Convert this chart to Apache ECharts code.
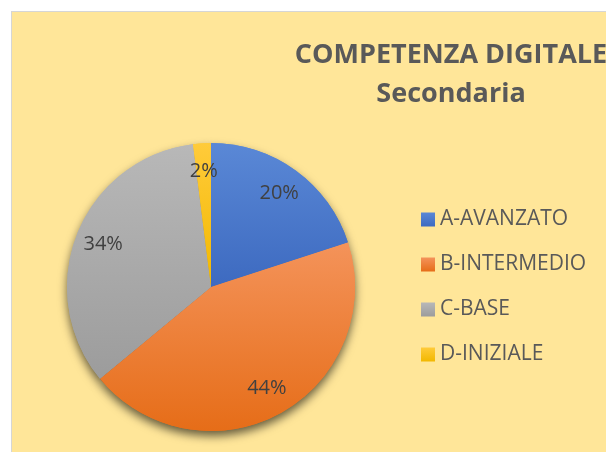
<!DOCTYPE html>
<html>
<head>
<meta charset="utf-8">
<script src="https://cdn.jsdelivr.net/npm/echarts@6/dist/echarts.min.js"></script>
<style>
  html, body { margin: 0; padding: 0; background: #ffffff; }
  #bg { position: absolute; left: 11px; top: 11px; right: 0; bottom: 0;
        background: #FFE699; border-left: 1px solid #d6d6d6; border-top: 1px solid #d6d6d6; }
  #main { position: absolute; left: 0; top: 0; width: 606px; height: 452px; }
</style>
</head>
<body>
<div id="bg"></div>
<div id="main"></div>
<script>
var categories = ['A-AVANZATO', 'B-INTERMEDIO', 'C-BASE', 'D-INIZIALE'];
var values = [20, 44, 34, 2];
var colorsTop = ['#5A88D6', '#F4935A', '#B8B8B8', '#FFCB3A'];
var colorsBottom = ['#3D6AC0', '#E66D18', '#9C9C9C', '#F2B800'];

function grad(i) {
    return new echarts.graphic.LinearGradient(0, 0, 0, 1, [
        { offset: 0, color: colorsTop[i] },
        { offset: 1, color: colorsBottom[i] }
    ]);
}

var pieData = categories.map(function (name, i) {
    return { name: name, value: values[i], itemStyle: { color: grad(i) } };
});

var myChart = echarts.init(document.getElementById('main'));

myChart.setOption({
    backgroundColor: 'transparent',
    animation: false,
    title: {
        text: 'COMPETENZA DIGITALE\nSecondaria',
        left: 451,
        top: 36,
        padding: 0,
        textAlign: 'center',
        textStyle: {
            fontFamily: 'Open Sans',
            fontWeight: 'bold',
            fontSize: 27,
            lineHeight: 39,
            color: '#595959'
        }
    },
    legend: {
        orient: 'vertical',
        left: 421,
        top: 209,
        padding: 0,
        itemWidth: 14,
        itemHeight: 14,
        itemGap: 24,
        icon: 'rect',
        data: categories,
        textStyle: {
            fontFamily: 'Open Sans',
            fontSize: 21,
            color: '#595959'
        }
    },
    series: [
        {
            // base pie carrying the drop shadow
            type: 'pie',
            silent: true,
            center: [211, 287],
            radius: [0, 144],
            startAngle: 90,
            label: { show: false },
            labelLine: { show: false },
            itemStyle: {
                shadowBlur: 10,
                shadowOffsetY: 5,
                shadowColor: 'rgba(0,0,0,0.6)'
            },
            data: pieData
        },
        {
            // pie without shadow on top
            type: 'pie',
            silent: true,
            center: [211, 287],
            radius: [0, 144],
            startAngle: 90,
            label: { show: false },
            labelLine: { show: false },
            data: pieData
        },
        {
            // transparent ring that places the labels
            type: 'pie',
            silent: true,
            center: [211, 287],
            radius: [82, 144],
            startAngle: 90,
            itemStyle: { color: 'transparent' },
            label: {
                show: true,
                position: 'inside',
                formatter: '{c}%',
                fontFamily: 'Open Sans',
                fontSize: 20,
                color: '#404040'
            },
            labelLine: { show: false },
            data: categories.map(function (name, i) {
                return { name: name, value: values[i] };
            })
        }
    ]
});
</script>
</body>
</html>
